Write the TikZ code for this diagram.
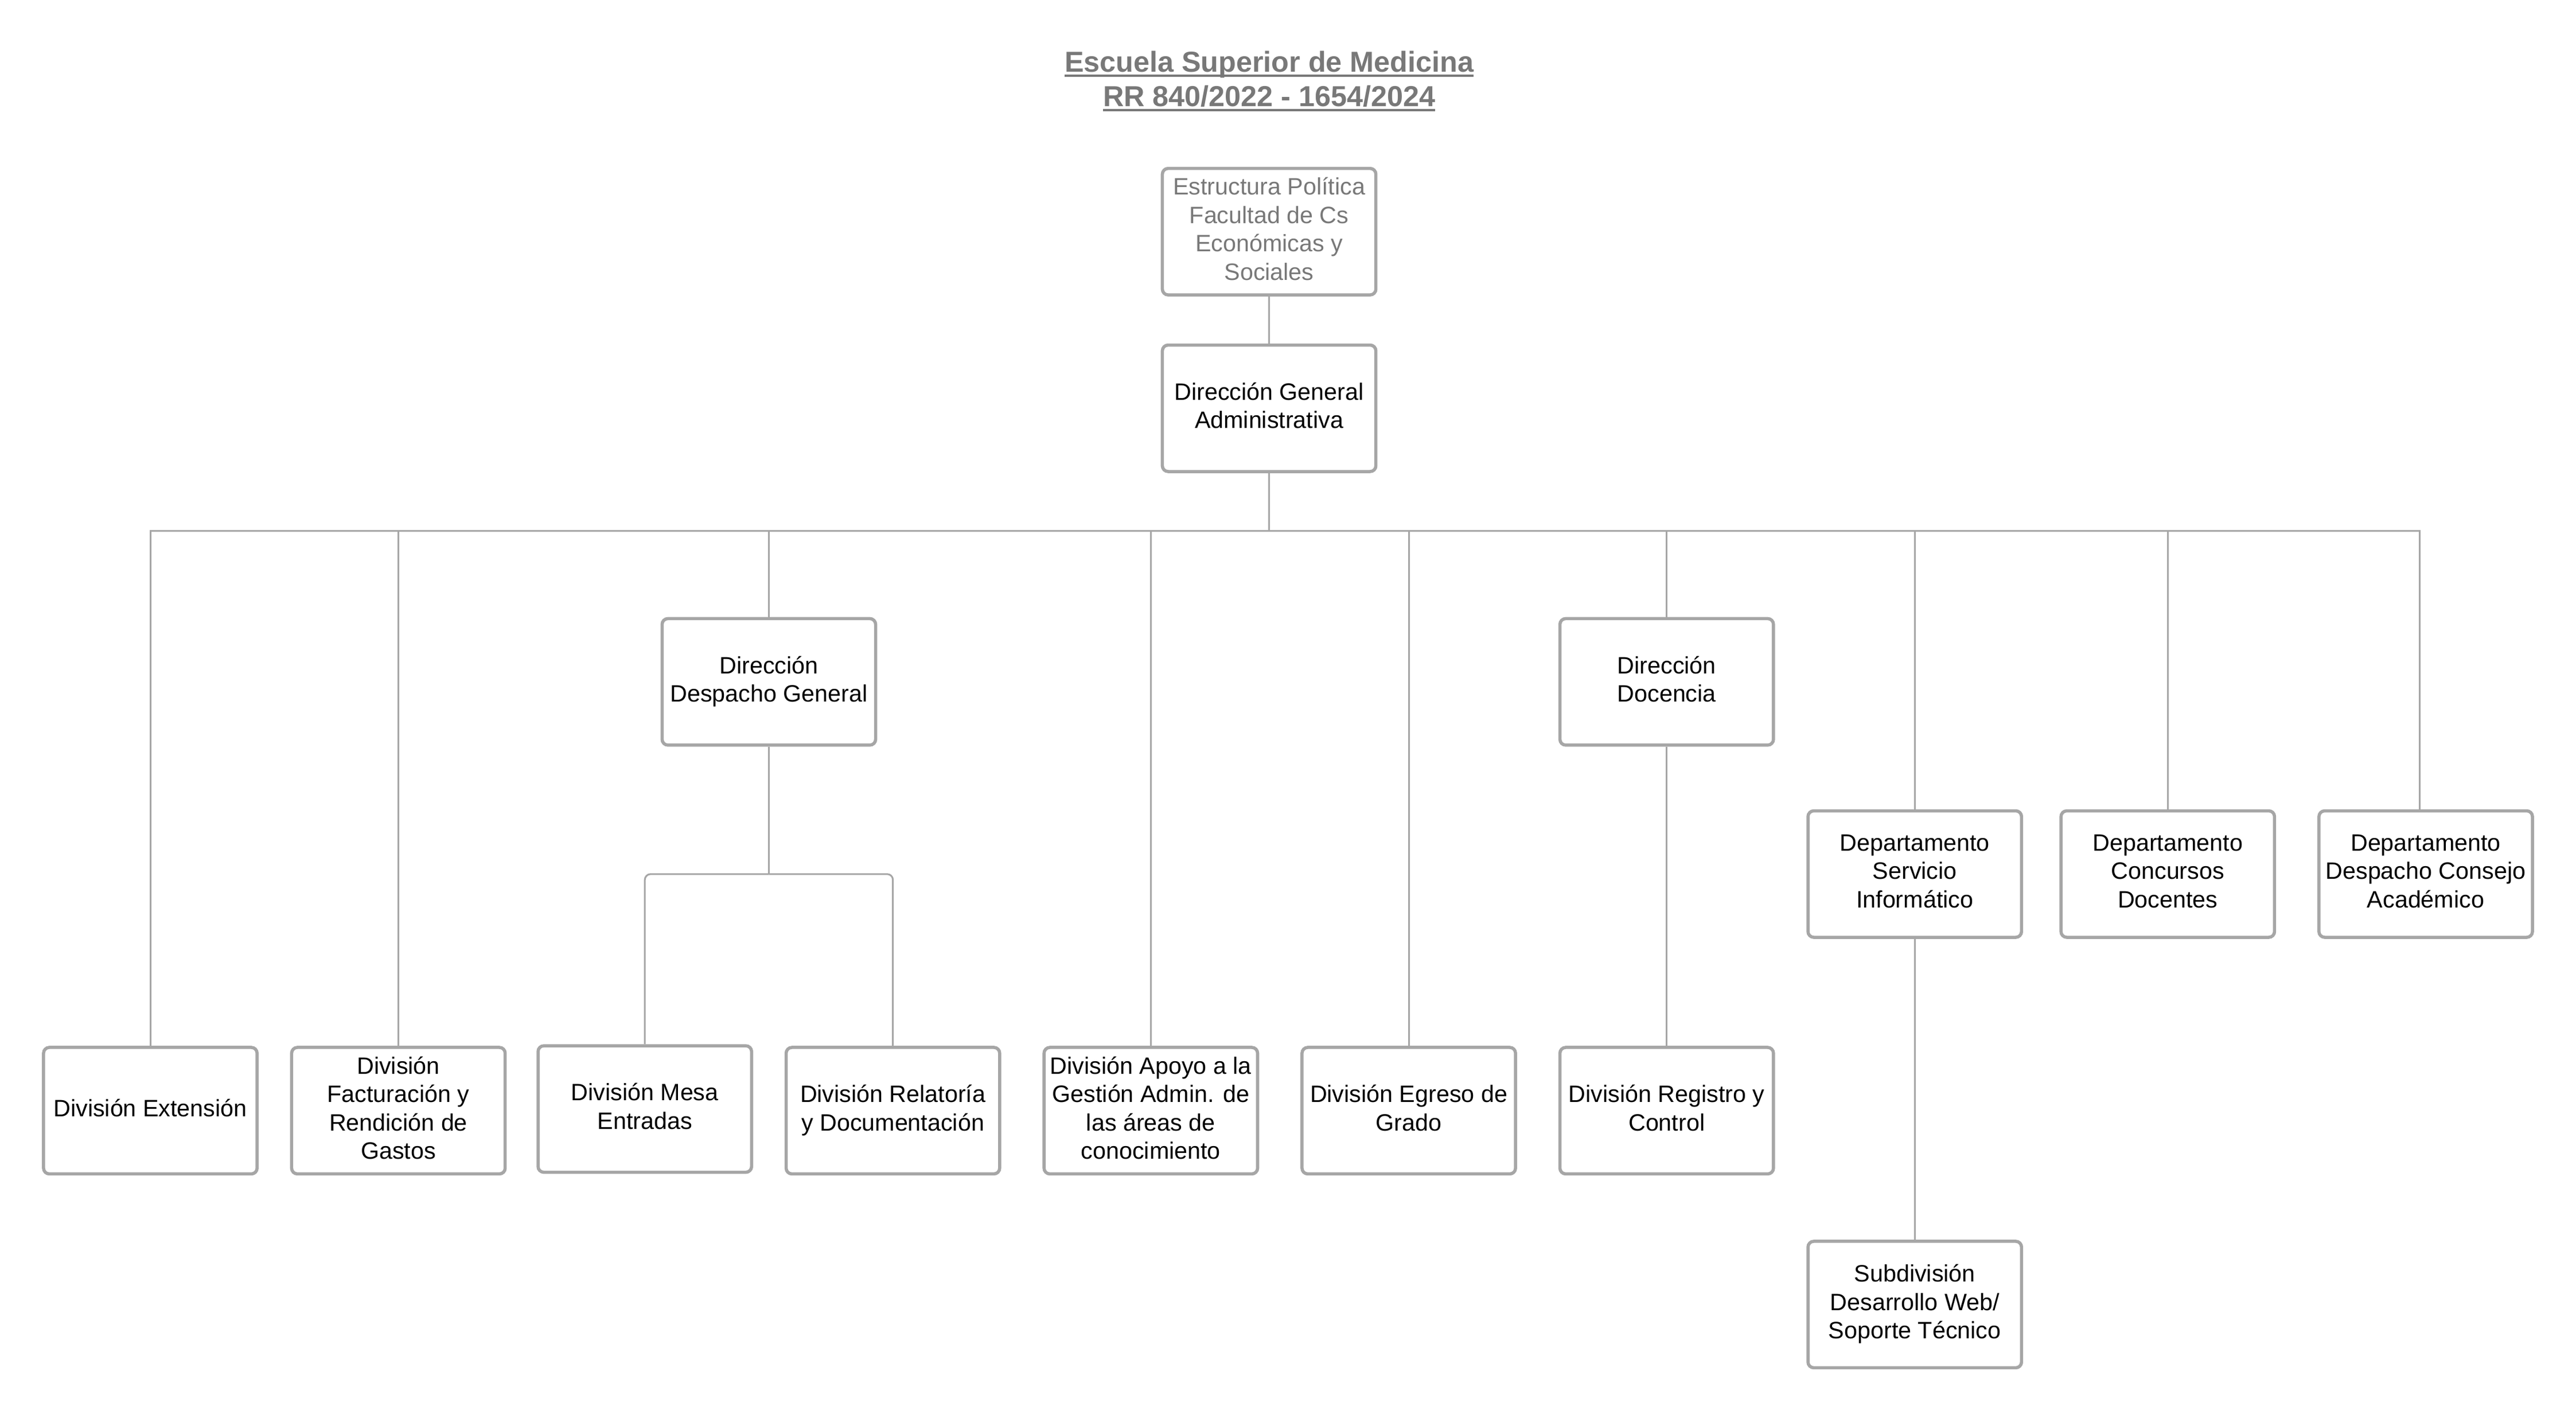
\documentclass[tikz,border=0pt]{standalone}
\usepackage{fontspec}
\setmainfont{Liberation Sans}
\definecolor{boxgray}{RGB}{166,166,166}
\definecolor{linegray}{RGB}{166,166,166}
\definecolor{titlegray}{RGB}{120,120,120}
\newcommand\uln[1]{\setbox0\hbox{#1}\rlap{\rule[-1.7pt]{\wd0}{0.8pt}}\box0}
\begin{document}
\begin{tikzpicture}[x=0.02cm, y=-0.02cm,
    unit/.style={draw=boxgray, line width=1.1pt, rounded corners=2pt, fill=white,
        minimum width=2.6cm, minimum height=1.54cm, align=center, inner sep=1pt,
        text depth=2pt, font=\fontsize{8.2}{9.85}\selectfont},
    title/.style={align=center, text=titlegray, font=\bfseries\fontsize{10}{12}\selectfont},
    link/.style={draw=linegray, line width=0.6pt}]
    \useasboundingbox (0,0) rectangle (1568,860.3);

    % Define the nodes
    \node[title] (title) at (772.5,49.5) {\uln{Escuela Superior de Medicina}\\\uln{RR 840/2022 - 1654/2024}};

    \node[unit, text=titlegray] (top) at (772.5,141) {Estructura Política\\Facultad de Cs\\Económicas y\\Sociales};
    \node[unit] (dga) at (772.5,248.5) {Dirección General\\Administrativa};

    \node[unit] (ddg) at (468,415) {Dirección\\Despacho General};
    \node[unit] (ddoc) at (1014.5,415) {Dirección\\Docencia};

    \node[unit] (dsi) at (1165.5,532) {Departamento\\Servicio\\Informático};
    \node[unit] (dcd) at (1319.5,532) {Departamento\\Concursos\\Docentes};
    \node[unit] (dca) at (1476.5,532) {Departamento\\Despacho Consejo\\Académico};

    \node[unit] (dext) at (91.5,676) {División Extensión};
    \node[unit] (dfac) at (242.5,676) {División\\Facturación y\\Rendición de\\Gastos};
    \node[unit] (dmesa) at (392.5,675) {División Mesa\\Entradas};
    \node[unit] (drel) at (543.5,676) {División Relatoría\\y Documentación};
    \node[unit] (dapoyo) at (700.5,676) {División Apoyo a la\\Gestión Admin. de\\las áreas de\\conocimiento};
    \node[unit] (degreso) at (857.5,676) {División Egreso de\\Grado};
    \node[unit] (dreg) at (1014.5,676) {División Registro y\\Control};

    \node[unit] (dweb) at (1165.5,794) {Subdivisión\\Desarrollo Web/\\Soporte Técnico};

    \coordinate (bus) at (772.5,323);
    \coordinate (subbus) at (468,532);

    % Draw the edges
    \draw[link] (top) -- (dga);
    \draw[link] (dga) -- (bus);

    \draw[link] (bus) -| (dext);
    \draw[link] (bus) -| (dfac);
    \draw[link] (bus) -| (ddg);
    \draw[link] (bus) -| (dapoyo);
    \draw[link] (bus) -| (degreso);
    \draw[link] (bus) -| (ddoc);
    \draw[link] (bus) -| (dsi);
    \draw[link] (bus) -| (dcd);
    \draw[link] (bus) -| ([xshift=-0.07cm]dca.north);

    \draw[link] (ddg) -- (subbus);
    \draw[link, rounded corners=2pt] (subbus) -| (dmesa);
    \draw[link, rounded corners=2pt] (subbus) -| (drel);

    \draw[link] (ddoc) -- (dreg);
    \draw[link] (dsi) -- (dweb);
\end{tikzpicture}
\end{document}
